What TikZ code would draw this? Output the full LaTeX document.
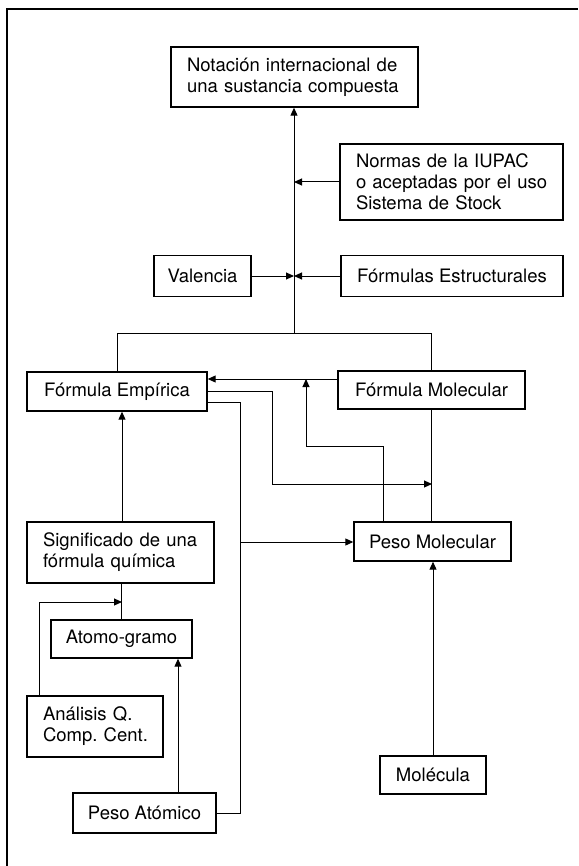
\documentclass[tikz,border=0pt]{standalone}
\usepackage{fontspec}
\setmainfont{TeX Gyre Heros}
\usetikzlibrary{arrows.meta}
\frenchspacing
\begin{document}
\begin{tikzpicture}[x=1pt,y=-1pt,
  box/.style={draw, line width=1.4pt, inner sep=0pt, font=\fontsize{18.5}{21}\selectfont},
  mbox/.style={box, align=left, inner xsep=16pt},
  conn/.style={line width=1pt},
  arr/.style={conn, -{Triangle[length=8pt,width=7pt]}},
  framestyle/.style={line width=1.6pt}]
\useasboundingbox (0,0) rectangle (578,866);
% frame (top and left edges only)
\draw[framestyle] (578,9) -- (7,9) -- (7,866);

% nodes
\node[mbox, text width=215pt, minimum height=60pt] (not) at (294.5,77) {\mbox{Notación internacional de}\\\mbox{una sustancia compuesta}};
\node[mbox, text width=191pt, minimum height=76pt] (nor) at (451.5,182) {\mbox{Normas de la IUPAC}\\\mbox{o aceptadas por el uso}\\\mbox{Sistema de Stock}};
\node[box, minimum width=97pt, minimum height=41pt] (val) at (202.5,276) {Valencia};
\node[box, minimum width=222pt, minimum height=41pt] (fes) at (452,276) {Fórmulas Estructurales};
\node[box, minimum width=180pt, minimum height=39pt] (fe) at (117,391.5) {Fórmula Empírica};
\node[box, minimum width=187pt, minimum height=38pt] (fm) at (431.5,390) {Fórmula Molecular};
\node[mbox, text width=155pt, minimum height=61pt] (sig) at (120.5,552.5) {\mbox{Significado de una}\\\mbox{fórmula química}};
\node[box, minimum width=157pt, minimum height=39pt] (pm) at (432.5,541.5) {Peso Molecular};
\node[box, minimum width=141pt, minimum height=38pt] (ag) at (121.5,639) {Atomo-gramo};
\node[mbox, text width=104pt, minimum height=61pt] (aq) at (95,726.5) {\mbox{Análisis Q.}\\\mbox{Comp. Cent.}};
\node[box, minimum width=143pt, minimum height=40pt] (pa) at (144.5,813) {Peso Atómico};
\node[box, minimum width=106pt, minimum height=38pt] (mol) at (433,775) {Molécula};

% junction coordinates
\coordinate (j) at (294,333);
\coordinate (a1) at ([yshift=11pt]fm.west);
\coordinate (p7) at ([xshift=-49.5pt]pm.north);
\coordinate (t7) at (306,379);
\coordinate (t8) at (432,484);
\coordinate (c10) at ([yshift=-10.5pt]fe.east);
\coordinate (c11) at (240,542);
\coordinate (s12) at ([xshift=1.5pt]sig.north);
\coordinate (q14) at ([xshift=-56pt]aq.north);
\coordinate (t14) at (122,602);
\coordinate (p15) at ([xshift=33.5pt]pa.north);

% main trunk
\draw[arr] (j) -- (j |- not.south);
\draw[arr] (nor.west) -- (nor.west -| j);
\draw[arr] (val.east) -- (val.east -| j);
\draw[arr] (fes.west) -- (fes.west -| j);
\draw[conn] (fe.north) -- (fe.north |- j) -- (fm.north |- j) -- (fm.north);

% middle connections
\draw[arr] (a1) -- (a1 -| fe.east);
\draw[arr] (p7) -- ++(0,-75) -| (t7);
\draw[arr] (fe.east) -- ++(65,0) |- (t8);
\draw[conn] (fm.south) -- (fm.south |- pm.north);
\draw[conn] (pa.east) -- ++(24,0) |- (c10);
\draw[arr] (c11) -- (c11 -| pm.west);
\draw[arr] (s12) -- (s12 |- fe.south);
\draw[conn] (ag.north) -- (ag.north |- sig.south);
\draw[arr] (q14) |- (t14);
\draw[arr] (p15) -- (p15 |- ag.south);
\draw[arr] (mol.north) -- (mol.north |- pm.south);
\end{tikzpicture}
\end{document}
